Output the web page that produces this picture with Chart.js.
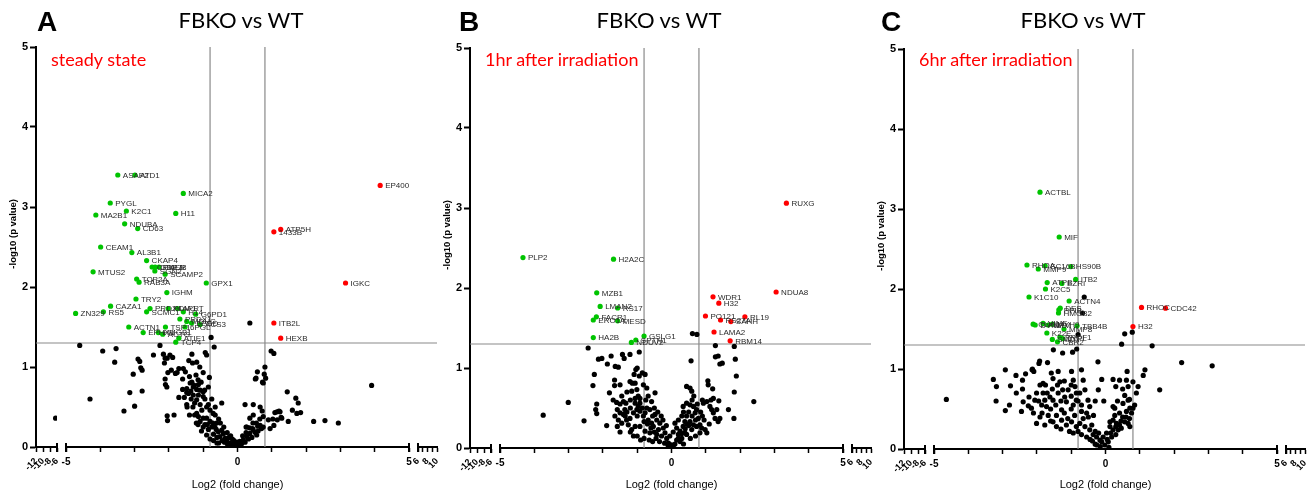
<!DOCTYPE html>
<html>
<head>
<meta charset="utf-8">
<script src="https://cdn.jsdelivr.net/npm/chart.js@4/dist/chart.umd.min.js"></script>
<style>
html, body { margin: 0; padding: 0; background: #fff; overflow: hidden; }
#wrap { position: relative; width: 1314px; height: 496px; }
canvas { position: absolute; top: 0; }
.lt { position: absolute; top: 8px; font: bold 28px "Liberation Sans", Arial, sans-serif; line-height: 1; }
.tt { position: absolute; top: 9px; font: 22px Lato, sans-serif; line-height: 1; transform: translateX(-50%); white-space: nowrap; }
.st { position: absolute; top: 50px; font: 18px Lato, sans-serif; line-height: 1; color: #ff0000; white-space: nowrap; }
</style>
</head>
<body>
<div id="wrap">
  <canvas id="cA" width="446" height="496" style="left:0px"></canvas>
  <canvas id="cB" width="446" height="496" style="left:434px"></canvas>
  <canvas id="cC" width="446" height="496" style="left:868px"></canvas>
  <div class="lt" style="left:37px">A</div>
  <div class="lt" style="left:459px">B</div>
  <div class="lt" style="left:881px">C</div>
  <div class="tt" style="left:241px">FBKO vs WT</div>
  <div class="tt" style="left:659px">FBKO vs WT</div>
  <div class="tt" style="left:1083px">FBKO vs WT</div>
  <div class="st" style="left:51px">steady state</div>
  <div class="st" style="left:485px">1hr after irradiation</div>
  <div class="st" style="left:919px">6hr after irradiation</div>
</div>
<script>
// thresholds
const FC_CUT = 0.8;
const P_CUT = 1.3;

// tick labels
const yTicks = [0, 1, 2, 3, 4, 5];
const leftTicks = [-12, -10, -8, -6];
const mainTicks = [-5, 0, 5];
const rightTicks = [6, 8, 10];

// ---- A: steady state  [log2 fc, -log10 p, protein]
const downA = [
  [-3.49, 3.40, 'ASAP2'], [-2.99, 3.40, 'ATD1'], [-1.58, 3.17, 'MICA2'], [-3.71, 3.05, 'PYGL'],
  [-3.24, 2.95, 'K2C1'], [-1.80, 2.92, 'H11'], [-4.13, 2.90, 'MA2B1'], [-3.29, 2.79, 'NDUBA'],
  [-2.91, 2.73, 'CD63'], [-3.99, 2.50, 'CEAM1'], [-3.08, 2.43, 'AL3B1'], [-2.65, 2.33, 'CKAP4'],
  [-2.49, 2.25, 'CPNE1'], [-2.40, 2.25, 'GRP78'], [-2.29, 2.25, 'CALR'], [-2.41, 2.20, 'SGN2'],
  [-2.11, 2.16, 'SCAMP2'], [-4.21, 2.19, 'MTUS2'], [-2.94, 2.10, 'TOP2A'], [-2.87, 2.06, 'RAB3A'],
  [-0.91, 2.05, 'GPX1'], [-2.06, 1.93, 'IGHM'], [-2.96, 1.85, 'TRY2'], [-3.70, 1.76, 'CAZA1'],
  [-3.91, 1.69, 'RS5'], [-4.72, 1.67, 'ZN329'], [-2.55, 1.73, 'PRDX4'], [-2.65, 1.69, 'SCMC1'],
  [-2.02, 1.73, 'PDIA1'], [-1.75, 1.73, 'APRT'], [-1.58, 1.69, 'H14'], [-1.22, 1.66, 'G6PD1'],
  [-1.68, 1.60, 'PRDX1'], [-1.48, 1.57, 'MDHC'], [-1.34, 1.55, '6PGD'], [-1.09, 1.53, 'ACS3'],
  [-3.17, 1.50, 'ACTN1'], [-2.10, 1.50, 'TSP1'], [-1.53, 1.50, '6PGL'], [-2.75, 1.43, 'EPHX1'],
  [-2.31, 1.43, 'HMGB1'], [-2.18, 1.41, 'ACTG'], [-1.71, 1.36, 'ATIE1'], [-1.80, 1.31, 'TCP4']
];
const upA = [
  [4.16, 3.27, 'EP400'], [1.26, 2.72, 'ATP5H'], [1.06, 2.69, '1433B'], [3.15, 2.05, 'IGKC'],
  [1.06, 1.55, 'ITB2L'], [1.26, 1.36, 'HEXB']
];
const nsA = [
  [-4.6, 1.27], [-3.93, 1.2], [-3.54, 1.23], [-3.58, 1.06], [-4.3, 0.6], [-3.31, 0.45], [-3.0, 0.51],
  [-3.14, 0.68], [-3.04, 0.91], [-2.78, 0.70], [-2.9, 1.10], [-2.85, 1.07], [-2.82, 0.99], [-2.78, 0.96],
  [-2.45, 1.15], [-2.26, 1.27], [-2.16, 1.16], [-2.11, 1.11], [-2.13, 1.05], [-2.05, 1.11], [-1.97, 1.15],
  [-1.89, 1.12], [-2.03, 0.93], [-1.93, 0.96], [-1.81, 0.92], [-1.76, 0.93], [-2.11, 0.85], [-2.1, 0.78],
  [-2.06, 0.75], [-1.71, 0.98], [-1.58, 0.98], [-1.52, 0.94], [-1.42, 1.08], [-1.33, 1.16], [-1.31, 1.05],
  [-1.19, 1.06], [-1.71, 0.62], [-1.48, 0.73], [-1.48, 0.68], [-1.33, 0.81], [-1.36, 0.70], [-1.26, 0.77],
  [-1.19, 0.72], [-1.21, 0.90], [-1.15, 0.84], [-1.06, 0.81], [-1.0, 0.93], [-0.96, 0.71], [-0.82, 0.87],
  [-0.94, 1.18], [-0.90, 1.15], [-0.77, 1.37], [-0.68, 1.25], [-2.05, 0.39], [-2.04, 0.33], [-1.85, 0.40],
  [-1.47, 0.50], [-1.38, 0.80], [-1.29, 0.75], [-1.14, 0.78], [-1.09, 0.71], [-1.0, 0.69], [-1.43, 0.67],
  [-1.29, 0.65], [-1.14, 0.65], [-1.0, 0.63], [-1.48, 0.53], [-1.19, 0.59], [-1.09, 0.53], [-1.04, 0.46],
  [-0.90, 0.50], [-0.85, 0.53], [-0.80, 0.46], [-0.71, 0.42], [-1.19, 0.42], [-1.14, 0.38], [-1.0, 0.36],
  [-1.09, 0.32], [-0.90, 0.36], [-0.80, 0.32], [-0.75, 0.25], [-0.66, 0.25], [-0.61, 0.30], [-0.56, 0.19],
  [-0.46, 0.55], [-0.46, 0.21], [-0.51, 0.13], [-0.41, 0.17], [-0.36, 0.11], [-0.31, 0.09], [-0.22, 0.05],
  [-0.12, 0.05], [-0.02, 0.03], [0.07, 0.07], [0.17, 0.09], [0.27, 0.13], [0.36, 0.17], [0.46, 0.21],
  [0.56, 0.15], [0.66, 0.27], [0.70, 0.23], [0.27, 0.25], [0.36, 0.36], [0.22, 0.53], [0.46, 0.53],
  [0.66, 0.50], [0.46, 0.40], [0.75, 0.38], [0.90, 0.34], [0.95, 0.23], [1.06, 0.27], [1.09, 0.43],
  [1.24, 0.44], [1.29, 0.36], [1.48, 0.32], [1.73, 0.42], [1.60, 0.46], [1.77, 0.55], [1.45, 0.69],
  [1.70, 0.61], [0.58, 0.94], [0.80, 1.0], [0.75, 0.80], [0.82, 0.86], [0.54, 0.86], [0.36, 1.55],
  [0.98, 1.2], [1.06, 1.17], [3.91, 0.77], [0.78, 0.91], [0.52, 0.85], [0.73, 0.81], [1.84, 0.43],
  [1.15, 0.44], [1.21, 0.45], [2.22, 0.32], [2.55, 0.33], [2.94, 0.30], [1.03, 0.35], [1.27, 0.37],
  [1.16, 0.34], [0.25, 0.25], [0.44, 0.23], [0.59, 0.26], [0.75, 0.25], [-0.6, 0.12], [-0.7, 0.16],
  [-0.85, 0.22], [-0.95, 0.28], [-0.3, 0.04], [-0.18, 0.02], [-0.08, 0.01], [0.05, 0.02], [0.12, 0.04],
  [0.22, 0.06], [0.32, 0.1], [0.42, 0.12], [-0.45, 0.08], [-0.38, 0.06], [-0.25, 0.12], [-0.15, 0.1],
  [-0.62, 0.22], [-0.72, 0.3], [-0.88, 0.28], [-1.0, 0.25], [-1.15, 0.28], [-1.25, 0.55], [-1.35, 0.6],
  [-1.55, 0.62], [-1.6, 0.85], [-0.55, 0.35], [-0.65, 0.4], [0.52, 0.18], [0.6, 0.2],
  [-1.3, 0.5], [-1.2, 0.3], [-1.05, 0.2], [-0.9, 0.15], [-0.8, 0.1], [-0.7, 0.08], [-0.55, 0.05],
  [-0.5, 0.3], [-0.4, 0.25], [-0.3, 0.18], [-0.2, 0.14], [-0.1, 0.08], [0.0, 0.06], [0.15, 0.14],
  [0.25, 0.18], [0.35, 0.24], [0.45, 0.3], [0.55, 0.3], [0.65, 0.35], [0.72, 0.45], [-1.4, 0.88],
  [-1.6, 0.72], [-1.1, 1.0], [-0.85, 0.75], [-0.75, 0.6], [-0.65, 0.5], [-0.95, 0.6], [-1.25, 0.4],
  [-1.4, 0.4], [-0.6, 0.05]
];
const farA = [[-6.4, 0.36]];

// ---- B: 1hr after irradiation
const downB = [
  [-4.33, 2.38, 'PLP2'], [-1.69, 2.36, 'H2A2C'], [-2.18, 1.94, 'MZB1'], [-2.08, 1.77, 'LMAN2'],
  [-1.57, 1.75, 'RS17'], [-2.19, 1.64, 'FACR1'], [-2.28, 1.60, 'ERO1A'], [-1.57, 1.59, 'MESD'],
  [-2.28, 1.38, 'HA2B'], [-0.80, 1.40, 'GSLG1'], [-1.04, 1.35, 'SPTN1'], [-1.17, 1.32, 'NDUV2']
];
const upB = [
  [3.35, 3.06, 'RUXG'], [3.05, 1.95, 'NDUA8'], [1.21, 1.89, 'WDR1'], [1.38, 1.81, 'H32'],
  [0.99, 1.65, 'PO121'], [1.43, 1.60, 'RS27A'], [1.73, 1.58, 'SAHH'], [2.14, 1.64, 'RL19'],
  [1.24, 1.45, 'LAMA2'], [1.71, 1.34, 'RBM14']
];
const nsB = [
  [-2.43, 1.25], [-3.74, 0.41], [-3.01, 0.57], [-2.55, 0.34], [-2.29, 0.78], [-2.25, 0.92], [-2.18, 0.55],
  [-2.21, 0.48], [-2.18, 0.43], [-2.13, 1.11], [-2.03, 1.12], [-1.76, 1.15], [-1.87, 1.05], [-1.64, 1.02],
  [-1.55, 1.01], [-1.81, 0.69], [-1.66, 0.85], [-1.66, 0.78], [-1.5, 0.79], [-1.43, 1.17], [-1.38, 1.12],
  [-1.21, 1.17], [-0.94, 1.20], [-1.04, 0.98], [-1.0, 1.0], [-0.94, 0.90], [-0.85, 0.94], [-0.77, 0.92],
  [-1.09, 0.92], [-1.14, 0.81], [-1.89, 0.28], [-1.58, 0.27], [-1.60, 0.57], [-1.50, 0.55], [-1.40, 0.58],
  [-1.33, 0.56], [-1.58, 0.48], [-1.50, 0.44], [-1.40, 0.42], [-1.36, 0.48], [-1.55, 0.35], [-1.45, 0.31],
  [-1.31, 0.35], [-1.21, 0.37], [-1.26, 0.29], [-1.16, 0.23], [-1.06, 0.27], [-1.11, 0.44], [-1.01, 0.48],
  [-0.97, 0.52], [-1.06, 0.56], [-0.92, 0.56], [-0.92, 0.46], [-0.82, 0.40], [-0.77, 0.44], [-0.72, 0.50],
  [-0.63, 0.48], [-0.68, 0.35], [-0.58, 0.31], [-0.53, 0.27], [-0.48, 0.42], [-0.43, 0.35], [-0.34, 0.31],
  [-0.38, 0.23], [-0.24, 0.25], [-0.19, 0.19], [-0.14, 0.12], [-0.09, 0.06], [0.0, 0.04], [-0.29, 0.15],
  [-0.43, 0.17], [-0.92, 0.27], [-0.77, 0.21], [-0.63, 0.19], [-1.11, 0.15], [-1.21, 0.83], [-1.06, 0.81],
  [-0.82, 0.79], [-0.72, 0.75], [-1.16, 0.71], [-1.01, 0.73], [-0.68, 0.65], [-0.58, 0.58], [-0.48, 0.69],
  [-0.92, 0.62], [-0.97, 0.65], [-1.06, 0.62], [0.10, 0.31], [0.20, 0.17], [0.25, 0.21], [0.34, 0.27],
  [0.39, 0.33], [0.44, 0.40], [0.34, 0.52], [0.44, 0.56], [0.54, 0.54], [0.64, 0.52], [0.69, 0.44],
  [0.73, 0.48], [0.78, 0.37], [0.54, 0.33], [0.64, 0.29], [0.73, 0.27], [0.83, 0.29], [0.59, 0.23],
  [0.44, 0.17], [0.30, 0.12], [0.39, 0.19], [0.15, 0.10], [0.25, 0.08], [0.54, 0.75], [0.59, 0.71],
  [0.44, 0.77], [1.06, 0.84], [1.07, 0.79], [0.93, 0.56], [1.03, 0.58], [1.12, 0.52], [1.17, 0.48],
  [1.22, 0.44], [1.32, 0.48], [1.27, 0.37], [1.41, 0.37], [1.36, 0.33], [1.66, 0.48], [1.22, 0.62],
  [1.03, 0.19], [0.98, 0.23], [0.88, 0.25], [0.83, 0.19], [0.61, 1.43], [0.74, 1.42], [1.28, 1.28],
  [1.83, 1.27], [1.28, 1.14], [1.36, 1.15], [1.41, 1.05], [1.48, 1.06], [1.86, 1.11], [0.57, 1.09],
  [1.89, 0.90], [1.2, 0.74], [1.38, 0.59], [1.83, 0.70], [2.40, 0.58], [1.82, 0.37], [-0.2, 0.06],
  [-0.1, 0.03], [0.05, 0.02], [0.1, 0.05], [0.2, 0.12], [-0.5, 0.2], [-0.6, 0.25], [-0.7, 0.3],
  [-0.8, 0.33], [0.3, 0.18], [0.4, 0.24], [0.5, 0.28], [-0.45, 0.12], [-0.35, 0.08], [-0.85, 0.5],
  [-0.75, 0.6], [-0.55, 0.4], [-1.2, 0.5], [-1.3, 0.45], [-1.0, 0.4], [0.6, 0.4], [0.7, 0.35],
  [0.9, 0.4], [0.45, 0.3],
  [-1.7, 0.6], [-1.45, 0.65], [-1.3, 0.7], [-1.2, 0.6], [-1.35, 0.4], [-1.2, 0.2], [-1.0, 0.15],
  [-0.9, 0.1], [-0.8, 0.12], [-0.65, 0.1], [-0.55, 0.08], [-0.5, 0.5], [-0.4, 0.45], [-0.3, 0.4],
  [-0.25, 0.35], [-0.15, 0.28], [-0.05, 0.15], [0.05, 0.2], [0.15, 0.25], [0.2, 0.35], [0.3, 0.4],
  [0.35, 0.45], [0.5, 0.45], [0.6, 0.6], [0.65, 0.65], [0.75, 0.55], [0.85, 0.45], [0.95, 0.35],
  [1.1, 0.3], [1.15, 0.6], [0.9, 0.6], [0.7, 0.15], [0.55, 0.12], [0.35, 0.05], [-1.5, 0.2], [-1.65, 0.4]
];

// ---- C: 6hr after irradiation
const downC = [
  [-1.91, 3.21, 'ACTBL'], [-1.35, 2.65, 'MIF'], [-2.29, 2.30, 'RHOA'], [-1.96, 2.25, 'MMP9'],
  [-1.76, 2.29, 'SC16B'], [-1.01, 2.28, 'HS90B'], [-0.87, 2.12, 'ITB2'], [-1.70, 2.08, 'ATPB'],
  [-1.27, 2.07, 'EZRI'], [-1.75, 2.00, 'K2C5'], [-2.23, 1.90, 'K1C10'], [-1.06, 1.85, 'ACTN4'],
  [-1.32, 1.76, 'DES'], [-1.36, 1.74, 'PPIB'], [-1.37, 1.70, 'HMGB2'], [-2.11, 1.56, 'CLIC1'],
  [-2.05, 1.55, 'DYNLL'], [-1.82, 1.57, 'VIME'], [-1.67, 1.55, 'NPM'], [-1.55, 1.56, 'MYH9'],
  [-1.21, 1.50, 'MMP8'], [-0.83, 1.54, 'TBB4B'], [-1.71, 1.45, 'K22E'], [-1.55, 1.37, 'SMD3'],
  [-1.33, 1.40, 'PROF1'], [-1.40, 1.34, 'CBR2'], [-1.25, 1.38, 'LYPL']
];
const upC = [
  [1.05, 1.77, 'RHOC'], [1.75, 1.76, 'CDC42'], [0.80, 1.53, 'H32']
];
const nsC = [
  [-4.64, 0.62], [-3.27, 0.87], [-3.18, 0.78], [-3.19, 0.60], [-2.92, 0.99], [-2.92, 0.48], [-2.77, 0.79],
  [-2.61, 0.92], [-2.42, 0.86], [-2.42, 0.75], [-2.40, 0.59], [-2.45, 0.47], [-2.33, 0.94], [-2.25, 0.54],
  [-2.14, 0.99], [-2.09, 0.97], [-2.01, 0.70], [-1.94, 1.07], [-1.91, 0.80], [-1.82, 0.82], [-1.69, 1.08],
  [-1.82, 0.70], [-1.77, 0.61], [-1.72, 0.53], [-1.58, 0.95], [-1.53, 0.88], [-1.38, 0.97], [-1.33, 0.84],
  [-1.25, 0.74], [-0.99, 0.97], [-0.94, 0.86], [-0.89, 0.78], [-0.70, 0.99], [-0.65, 0.86], [-0.85, 0.61],
  [-0.94, 0.55], [-1.14, 0.59], [-1.28, 0.49], [-1.43, 0.42], [-1.53, 0.34], [-1.67, 0.42], [-1.77, 0.30],
  [-1.91, 0.40], [-2.01, 0.32], [-2.16, 0.51], [-2.23, 0.65], [-2.06, 0.61], [-1.86, 0.55], [-1.62, 0.65],
  [-1.53, 0.61], [-1.38, 0.70], [-1.19, 0.65], [-1.09, 0.74], [-0.75, 0.70], [-0.60, 0.74], [-0.51, 0.61],
  [-0.46, 0.53], [-0.55, 0.45], [-0.65, 0.38], [-0.75, 0.32], [-0.85, 0.28], [-0.99, 0.34], [-1.14, 0.30],
  [-1.28, 0.36], [-1.43, 0.28], [-0.60, 0.28], [-0.46, 0.24], [-0.36, 0.18], [-0.55, 0.15], [-0.80, 0.22],
  [-0.94, 0.20], [-1.52, 1.24], [-1.25, 1.20], [-0.96, 1.21], [-0.84, 1.25], [-1.92, 1.10], [-0.22, 1.09],
  [-2.13, 1.00], [-0.62, 1.90], [-0.67, 1.70], [-0.80, 1.43], [1.15, 0.99], [1.10, 0.92], [0.95, 0.78],
  [0.90, 0.70], [0.80, 0.84], [0.66, 0.78], [0.61, 0.86], [0.63, 0.97], [0.41, 0.86], [0.22, 0.87],
  [-0.11, 0.87], [-0.21, 0.74], [0.56, 0.67], [0.66, 0.61], [0.51, 0.57], [0.71, 0.51], [0.61, 0.47],
  [0.41, 0.45], [0.27, 0.42], [0.22, 0.36], [0.13, 0.34], [0.32, 0.32], [0.41, 0.30], [0.66, 0.32],
  [0.71, 0.28], [0.76, 0.45], [0.80, 0.51], [0.22, 0.53], [0.27, 0.51], [0.13, 0.28], [0.03, 0.20],
  [-0.07, 0.15], [-0.16, 0.11], [-0.26, 0.15], [-0.11, 0.09], [-0.02, 0.05], [0.08, 0.09], [0.18, 0.15],
  [0.22, 0.24], [0.37, 0.24], [0.46, 0.26], [0.56, 0.34], [1.58, 0.74], [2.22, 1.08], [3.11, 1.04],
  [1.36, 1.29], [0.56, 1.44], [0.47, 1.31], [0.78, 1.46], [-1.0, 0.5], [-1.2, 0.45], [-0.9, 0.42],
  [-0.7, 0.55], [-0.8, 0.6], [-1.3, 0.6], [-1.6, 0.5], [-1.1, 0.38], [-0.5, 0.4], [-0.4, 0.3],
  [-0.3, 0.22], [-0.2, 0.2], [-1.7, 0.7], [-1.45, 0.55], [-1.0, 0.66], [-0.7, 0.47], [-0.38, 0.1],
  [-0.3, 0.06], [0.1, 0.02], [0.3, 0.18], [0.5, 0.4], [0.7, 0.62], [0.85, 0.55],
  [-1.4, 0.8], [-1.2, 0.85], [-1.0, 0.8], [-0.85, 0.7], [-1.55, 0.75], [-1.75, 0.8], [-1.95, 0.6],
  [-2.1, 0.45], [-1.85, 0.45], [-1.6, 0.35], [-1.3, 0.25], [-1.05, 0.22], [-0.7, 0.18], [-0.45, 0.12],
  [-0.25, 0.05], [-0.15, 0.03], [0.05, 0.12], [0.15, 0.2], [0.3, 0.28], [0.45, 0.35], [0.6, 0.4],
  [0.7, 0.38], [0.35, 0.6], [0.5, 0.75], [0.3, 0.78], [-0.05, 0.6], [-0.3, 0.6], [-0.35, 0.42],
  [-2.6, 0.7], [-2.8, 0.55]
];

const GREEN = '#00c400';
const RED = '#ff0000';
const FONT = '"Liberation Sans", Arial, sans-serif';
Chart.defaults.font.family = FONT;

// threshold lines, broken-axis caps and point labels
const volcanoPlugin = {
  id: 'volcano',
  beforeDatasetsDraw(chart) {
    const { ctx, chartArea: a, scales } = chart;
    ctx.save();
    ctx.strokeStyle = '#8a8a8a';
    ctx.lineWidth = 1.2;
    ctx.beginPath();
    [-FC_CUT, FC_CUT].forEach(v => {
      const px = scales.xM.getPixelForValue(v);
      ctx.moveTo(px, a.top);
      ctx.lineTo(px, a.bottom);
    });
    const py = scales.y.getPixelForValue(P_CUT);
    ctx.moveTo(a.left, py);
    ctx.lineTo(a.right, py);
    ctx.stroke();
    ctx.restore();
  },
  afterDatasetsDraw(chart) {
    const { ctx, chartArea: a, scales } = chart;
    ctx.save();
    ctx.strokeStyle = '#000';
    ctx.lineWidth = 2;
    ctx.beginPath();
    [['xL', -6], ['xM', -5], ['xM', 5], ['xR', 6]].forEach(([id, v]) => {
      const px = scales[id].getPixelForValue(v);
      ctx.moveTo(px, a.bottom - 4);
      ctx.lineTo(px, a.bottom + 5);
    });
    ctx.stroke();
    ctx.font = '8px ' + FONT;
    ctx.fillStyle = '#2a2a2a';
    ctx.textBaseline = 'middle';
    chart.data.datasets.forEach((ds, i) => {
      if (!ds.names) return;
      chart.getDatasetMeta(i).data.forEach((pt, j) => {
        ctx.fillText(ds.names[j], pt.x + 5, pt.y + 0.5);
      });
    });
    ctx.restore();
  }
};

function segAxis(min, max, weight, step, labels, rot, bottomH, title) {
  return {
    type: 'linear', position: 'bottom', stack: 'x', stackWeight: weight, min: min, max: max,
    border: { color: '#000', width: 2 },
    grid: { drawOnChartArea: false, tickLength: 5, tickWidth: 1.5, tickColor: '#000' },
    ticks: {
      stepSize: step, autoSkip: false, minRotation: rot, maxRotation: rot, padding: 4,
      color: '#000', font: { size: rot ? 9 : 10, weight: 'bold' },
      callback: v => labels.includes(v) ? String(v) : ''
    },
    title: title ? {
      display: true, text: title, color: '#000', font: { size: 11 }, padding: { top: 0, bottom: 4 }
    } : { display: false },
    afterFit(s) { s.height = bottomH; s.paddingLeft = 0; s.paddingRight = 0; }
  };
}

function gapAxis(weight) {
  return { type: 'linear', position: 'bottom', stack: 'x', stackWeight: weight, min: 0, max: 1, display: false };
}

function toXY(arr) { return arr.map(d => ({ x: d[0], y: d[1] })); }

function buildPanel(id, topPad, down, up, ns, far) {
  const bottomH = 96 - topPad;
  const pt = { pointRadius: 2.6, pointHoverRadius: 2.6, pointBorderWidth: 0, yAxisID: 'y' };
  const datasets = [
    Object.assign({ data: toXY(down), names: down.map(d => d[2]), backgroundColor: GREEN, xAxisID: 'xM' }, pt),
    Object.assign({ data: toXY(up), names: up.map(d => d[2]), backgroundColor: RED, xAxisID: 'xM' }, pt),
    Object.assign({ data: toXY(ns), backgroundColor: '#000', xAxisID: 'xM' }, pt)
  ];
  if (far.length) {
    datasets.push(Object.assign({ data: toXY(far), backgroundColor: '#000', xAxisID: 'xL' }, pt));
  }
  new Chart(document.getElementById(id), {
    type: 'scatter',
    data: { datasets: datasets },
    options: {
      responsive: false,
      animation: false,
      events: [],
      layout: { padding: { left: 0, top: topPad, right: 9, bottom: 0 } },
      plugins: { legend: { display: false }, tooltip: { enabled: false } },
      scales: {
        y: {
          type: 'linear', position: 'left', min: 0, max: 5,
          border: { color: '#000', width: 2 },
          grid: { drawOnChartArea: false, tickLength: 6, tickWidth: 2, tickColor: '#000' },
          ticks: {
            stepSize: 1, padding: 2, color: '#000', font: { size: 11, weight: 'bold' },
            callback: v => yTicks.includes(v) ? String(v) : ''
          },
          title: {
            display: true, text: '\u00a0'.repeat(10) + '-log10 (p value)', color: '#000',
            font: { size: 9.5, weight: 'bold' }, padding: { top: 8, bottom: 0 }
          },
          afterFit(s) { s.width = 36; }
        },
        xL: segAxis(-12, -6, 21, 2, leftTicks, 45, bottomH),
        g1: gapAxis(9),
        xM: segAxis(-5, 5, 343, 1, mainTicks, 0, bottomH, 'Log2 (fold change)'),
        g2: gapAxis(9),
        xR: segAxis(6, 10, 19, 1, rightTicks, 45, bottomH)
      }
    },
    plugins: [volcanoPlugin]
  });
}

buildPanel('cA', 47, downA, upA, nsA, farA);
buildPanel('cB', 48, downB, upB, nsB, []);
buildPanel('cC', 49, downC, upC, nsC, []);
</script>
</body>
</html>
